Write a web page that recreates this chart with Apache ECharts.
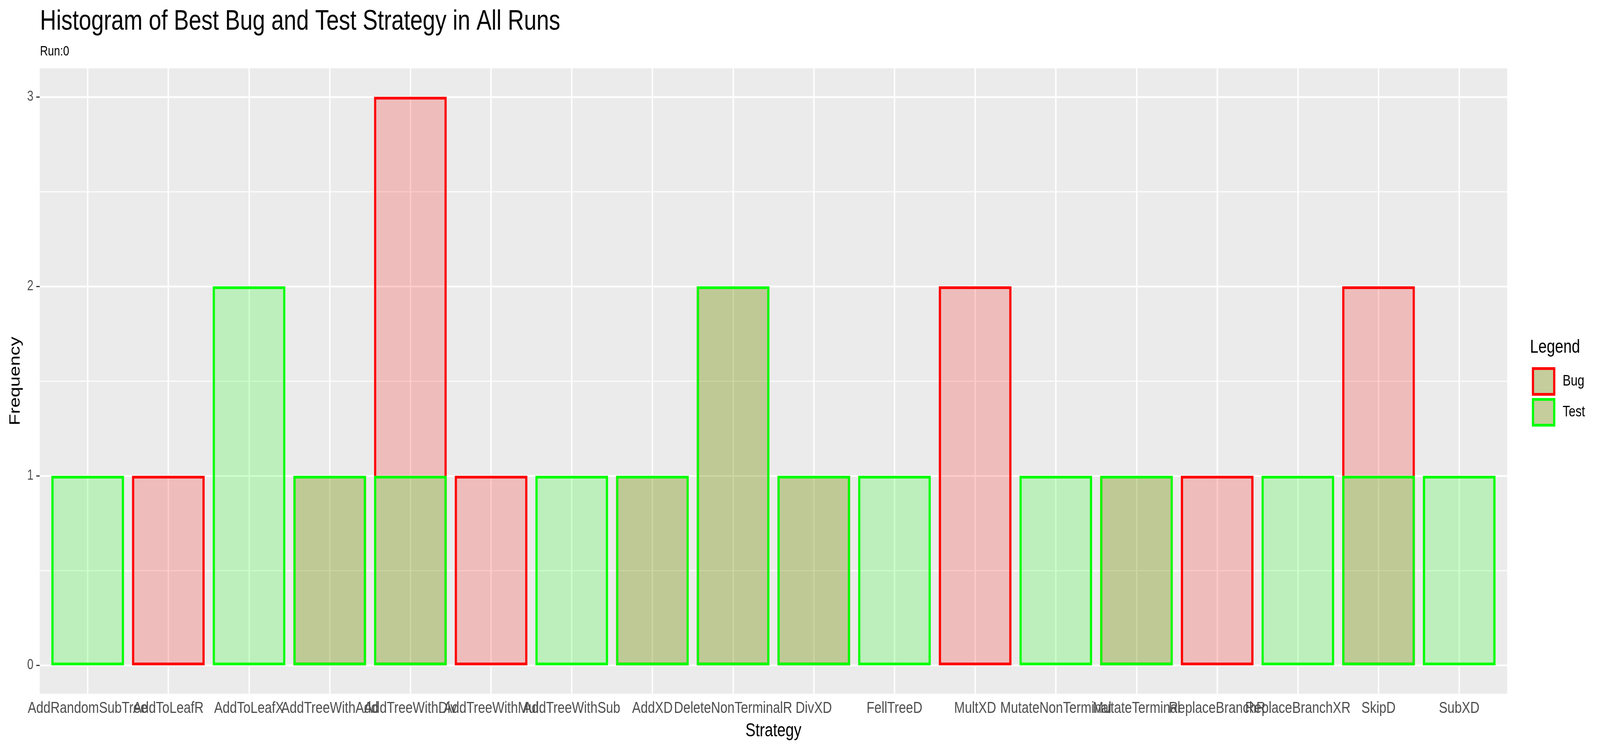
<!DOCTYPE html>
<html>
<head>
<meta charset="utf-8">
<script src="https://cdn.jsdelivr.net/npm/echarts@6/dist/echarts.min.js"></script>
<style>
  html, body { margin: 0; padding: 0; background: #fff; overflow: hidden; }
  #chart { width: 5120px; height: 1920px; transform-origin: 0 0; }
</style>
</head>
<body>
<div id="chart"></div>
<script>
// strategies on the x axis, in plot order
const categories = [
  'AddRandomSubTree', 'AddToLeafR', 'AddToLeafX', 'AddTreeWithAdd', 'AddTreeWithDiv',
  'AddTreeWithMul', 'AddTreeWithSub', 'AddXD', 'DeleteNonTerminalR', 'DivXD',
  'FellTreeD', 'MultXD', 'MutateNonTerminal', 'MutateTerminal', 'ReplaceBranchR',
  'ReplaceBranchXR', 'SkipD', 'SubXD'
];
// frequency per strategy
const bugCounts  = [0, 1, 0, 1, 3, 1, 0, 1, 2, 1, 0, 2, 0, 1, 1, 0, 2, 0];
const testCounts = [1, 0, 2, 1, 1, 0, 1, 1, 2, 1, 1, 0, 1, 1, 0, 1, 1, 1];
// y axis breaks
const yTicks = [0, 1, 2, 3];
const yMinor = [0.5, 1.5, 2.5];

const FONT = 'Liberation Sans, Arial, sans-serif';

// the plot is laid out for 5120x1920, fit it to whatever window we get
const box = document.getElementById('chart');
const sx = window.innerWidth / 5120;
const sy = window.innerHeight / 1920;
box.style.transform = 'scale(' + sx + ',' + sy + ')';

// panel edges; ggplot pads a discrete axis by 0.6 of a band, echarts by 0.5,
// so the bar grid sits 0.1 band inside the panel on each side
const panel = { left: 127, right: 297, top: 175, bottom: 144 };
const band = (5120 - panel.left - panel.right) / (categories.length + 1.2);
const inset = 0.1 * band;

function toBars(counts) {
  return counts.map(v => (v > 0 ? v : '-'));
}

let hLines = [];
yTicks.forEach(v => hLines.push({ yAxis: v, lineStyle: { width: 4.5 } }));
yMinor.forEach(v => hLines.push({ yAxis: v, lineStyle: { width: 2.3 } }));
let vLines = categories.map(c => ({ xAxis: c, lineStyle: { width: 4.5 } }));

const gridLineStyle = {
  silent: true,
  symbol: 'none',
  z: 1,
  label: { show: false },
  lineStyle: { color: '#FFFFFF', type: 'solid' },
  emphasis: { disabled: true }
};

const chart = echarts.init(box, null, { renderer: 'canvas' });

const option = {
  animation: false,
  backgroundColor: '#ffffff',
  textStyle: { fontFamily: FONT },
  title: [
    { text: 'Histogram of Best Bug and Test Strategy in All Runs', left: 128, top: 20, padding: 0,
      textStyle: { fontFamily: FONT, fontSize: 72, fontWeight: 'normal', color: '#000' } },
    { text: 'Run:0', left: 128, top: 115, padding: 0,
      textStyle: { fontFamily: FONT, fontSize: 35, fontWeight: 'normal', color: '#000' } },
    { text: 'Legend', left: 4896, top: 866, padding: 0,
      textStyle: { fontFamily: FONT, fontSize: 48, fontWeight: 'normal', color: '#000' } }
  ],
  legend: {
    orient: 'vertical',
    left: 4902,
    top: 940,
    padding: 0,
    itemWidth: 68,
    itemHeight: 66,
    itemGap: 6,
    icon: 'rect',
    selectedMode: false,
    itemStyle: { color: '#C4CD9B', borderWidth: 7 },
    textStyle: { fontFamily: FONT, fontSize: 39, color: '#000', padding: [0, 0, 0, 22] },
    data: [
      { name: 'Bug', itemStyle: { color: '#C4CD9B', borderColor: '#FF0000', borderWidth: 7 } },
      { name: 'Test', itemStyle: { color: '#C4CD9B', borderColor: '#00FF00', borderWidth: 7 } }
    ]
  },
  grid: [
    {
      left: panel.left, right: panel.right, top: panel.top, bottom: panel.bottom,
      show: true, backgroundColor: '#EBEBEB', borderWidth: 0
    },
    {
      left: panel.left + inset, right: panel.right + inset, top: panel.top, bottom: panel.bottom
    }
  ],
  xAxis: [
    { type: 'value', gridIndex: 0, min: 0, max: 1, show: false },
    {
      type: 'category',
      gridIndex: 1,
      data: categories,
      boundaryGap: true,
      name: 'Strategy',
      nameLocation: 'middle',
      nameGap: 72,
      nameTextStyle: { fontFamily: FONT, fontSize: 48, color: '#000' },
      axisLine: { show: false },
      splitLine: { show: false },
      axisTick: { show: true, alignWithLabel: true, interval: 0, length: 11,
        lineStyle: { color: '#333333', width: 3 } },
      axisLabel: { interval: 0, margin: 17, fontFamily: FONT, fontSize: 41, color: '#4D4D4D' }
    }
  ],
  yAxis: [
    {
      type: 'value',
      gridIndex: 0,
      min: -0.15,
      max: 3.15,
      name: 'Frequency',
      nameLocation: 'middle',
      nameRotate: 90,
      nameGap: 53,
      nameTextStyle: { fontFamily: FONT, fontSize: 48, color: '#000' },
      axisLine: { show: false },
      splitLine: { show: false },
      axisTick: { show: true, length: 11, lineStyle: { color: '#333333', width: 3 }, customValues: yTicks },
      axisLabel: {
        customValues: yTicks,
        showMinLabel: true,
        showMaxLabel: true,
        margin: 20,
        fontFamily: FONT, fontSize: 36, color: '#4D4D4D'
      }
    },
    { type: 'value', gridIndex: 1, min: -0.15, max: 3.15, show: false }
  ],
  series: [
    {
      // horizontal panel grid lines, under the bars
      type: 'scatter',
      xAxisIndex: 0,
      yAxisIndex: 0,
      data: [],
      silent: true,
      markLine: Object.assign({}, gridLineStyle, { data: hLines })
    },
    {
      // vertical panel grid lines at the strategies
      type: 'scatter',
      xAxisIndex: 1,
      yAxisIndex: 1,
      data: [],
      silent: true,
      markLine: Object.assign({}, gridLineStyle, { data: vLines })
    },
    {
      name: 'Bug',
      type: 'bar',
      xAxisIndex: 1,
      yAxisIndex: 1,
      z: 3,
      barWidth: '90%',
      data: toBars(bugCounts),
      itemStyle: { color: 'rgba(255,0,0,0.2)', borderColor: '#FF0000', borderWidth: 7 }
    },
    {
      name: 'Test',
      type: 'bar',
      xAxisIndex: 1,
      yAxisIndex: 1,
      z: 3,
      barWidth: '90%',
      barGap: '-100%',
      data: toBars(testCounts),
      itemStyle: { color: 'rgba(0,255,0,0.2)', borderColor: '#00FF00', borderWidth: 7 }
    }
  ]
};

chart.setOption(option);
</script>
</body>
</html>
